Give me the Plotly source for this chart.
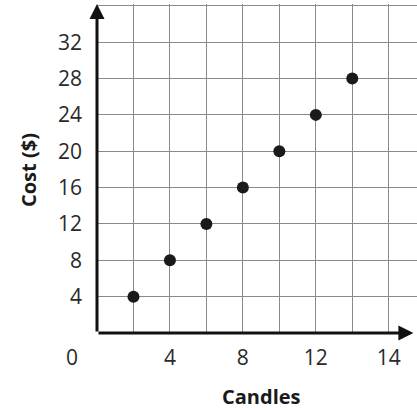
import plotly.graph_objects as go

candles = [2, 4, 6, 8, 10, 12, 14]
cost = [4, 8, 12, 16, 20, 24, 28]

x_tickvals = [2, 4, 6, 8, 10, 12, 14, 16]
x_ticktext = ["", "4", "", "8", "", "12", "", "14"]
y_tickvals = [4, 8, 12, 16, 20, 24, 28, 32, 36]
y_ticktext = ["4", "8", "12", "16", "20", "24", "28", "32", ""]

x_title = "Candles"
y_title = "Cost ($)"
origin_label = "0"

XMAX = 17.55
YMAX = 36.2

fig = go.Figure()
fig.add_trace(go.Scatter(
    x=candles, y=cost, mode="markers",
    marker=dict(color="#1a1a1a", size=12),
    showlegend=False, cliponaxis=False,
))

tick_font = dict(family="Open Sans", size=21, color="#2a2a2a")
title_font = dict(family="Open Sans", size=20, color="#1a1a1a", weight="bold")

fig.update_layout(
    width=417, height=410,
    autosize=False,
    margin=dict(l=97, r=0, t=4, b=77, pad=0, autoexpand=False),
    paper_bgcolor="white", plot_bgcolor="white",
    xaxis=dict(range=[0, XMAX], tickvals=x_tickvals, ticktext=x_ticktext,
               showgrid=True, gridcolor="#8a8a8a", gridwidth=1,
               zeroline=False, showline=False, tickfont=tick_font,
               ticks="", ticklabelstandoff=10, fixedrange=True,
               automargin=False),
    yaxis=dict(range=[0, YMAX], tickvals=y_tickvals, ticktext=y_ticktext,
               showgrid=True, gridcolor="#8a8a8a", gridwidth=1,
               zeroline=False, showline=False, tickfont=tick_font,
               ticks="", ticklabelstandoff=14, fixedrange=True,
               automargin=False),
    annotations=[
        dict(x=0, y=YMAX, ax=0, ay=0, xref="x", yref="y", axref="x", ayref="y",
             showarrow=True, arrowhead=2, arrowsize=1, arrowwidth=3,
             arrowcolor="#111", text="", standoff=0, startstandoff=0),
        dict(x=17.35, y=0, ax=0, ay=0, xref="x", yref="y", axref="x", ayref="y",
             showarrow=True, arrowhead=2, arrowsize=1, arrowwidth=3,
             arrowcolor="#111", text="", standoff=0, startstandoff=0),
        dict(x=0, y=0, xref="x", yref="y", text=origin_label, showarrow=False,
             xshift=-25, yshift=-24, font=tick_font),
        dict(x=0.5125, y=-0.1945, xref="paper", yref="paper", text=x_title,
             showarrow=False, font=title_font, yanchor="middle"),
        dict(x=-0.2156, y=0.4954, xref="paper", yref="paper", text=y_title,
             showarrow=False, font=title_font, textangle=-90,
             xanchor="center", yanchor="middle"),
    ],
)

fig.write_html(
    "out.html",
    config={"responsive": False, "displayModeBar": False},
    post_script="document.body.style.margin='0';document.body.style.overflow='hidden';",
)
